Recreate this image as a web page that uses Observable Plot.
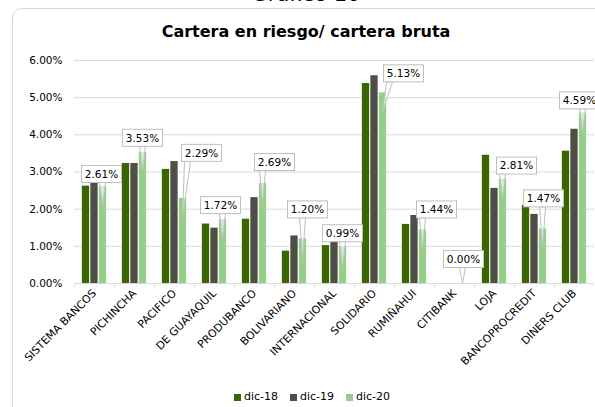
<!DOCTYPE html>
<html><head><meta charset="utf-8">
<script src="https://cdn.jsdelivr.net/npm/d3@7"></script>
<script src="https://cdn.jsdelivr.net/npm/@observablehq/plot@0.6"></script>
<style>
body{margin:0;background:#fff;font-family:"DejaVu Sans",sans-serif;}
#wrap{position:relative;width:595px;height:407px;overflow:hidden;background:#fff;}
#card{position:absolute;left:12px;top:8px;width:620px;height:430px;border:1px solid #d9d9d9;border-radius:10px;box-sizing:border-box;}
#sup{position:absolute;left:0;width:612px;top:-18px;text-align:center;font-size:21px;line-height:24px;color:#000;}
#title{position:absolute;left:0;width:612px;top:22px;text-align:center;font-weight:bold;font-size:16px;line-height:20px;color:#000;}
#chart{position:absolute;left:0;top:0;}
#legend{position:absolute;top:389px;left:0;width:624px;display:flex;justify-content:center;gap:12px;font-size:11px;line-height:16px;color:#000;}
#legend span.item{display:flex;align-items:center;gap:3px;}
#legend span.sw{display:inline-block;width:7px;height:7px;}
</style></head>
<body>
<div id="wrap">
  <div id="card"></div>
  <div id="sup">Gráfico 10</div>
  <div id="title">Cartera en riesgo/ cartera bruta</div>
  <div id="chart"></div>
  <div id="legend"></div>
</div>
<script>
const categories = ["SISTEMA BANCOS","PICHINCHA","PACIFICO","DE GUAYAQUIL","PRODUBANCO","BOLIVARIANO","INTERNACIONAL","SOLIDARIO","RUMIÑAHUI","CITIBANK","LOJA","BANCOPROCREDIT","DINERS CLUB"];
const dic18 = [2.62,3.23,3.07,1.60,1.73,0.87,1.02,5.38,1.59,0.00,3.45,2.10,3.56];
const dic19 = [2.72,3.23,3.28,1.49,2.31,1.28,1.15,5.59,1.83,0.00,2.56,1.86,4.15];
const dic20 = [2.61,3.53,2.29,1.72,2.69,1.20,0.99,5.13,1.44,0.00,2.81,1.47,4.59];
const seriesNames = ["dic-18","dic-19","dic-20"];
const seriesColors = ["#3a6600","#4f4f47","#95cf8a"];
const yTicks = [0,1,2,3,4,5,6];
// callout box offsets (px) relative to the dic-20 bar top
const calloutDx = [-1,0,19,-2,12,5,0,21,14,1,14,1,-3];
const calloutDy = [-12,-14,-45,-14,-21,-29,-13,-19,-20,-24,-13,-30,-12];

const rows = categories.map((c,i)=>({cat:c, v18:dic18[i], v19:dic19[i], v20:dic20[i], dx:calloutDx[i], dy:calloutDy[i]}));
const keys = ["v18","v19","v20"];
const barW = 7.3, step = 8.5;

const chart = Plot.plot({
  width:595, height:380, marginLeft:74, marginRight:1, marginTop:60, marginBottom:97,
  style:{fontFamily:"DejaVu Sans", fontSize:"10.5px", color:"#000", background:"transparent", overflow:"visible"},
  x:{domain:categories, padding:0},
  y:{domain:[0,6]},
  marks:[
    Plot.ruleY(yTicks, {stroke:"#d9d9d9"}),
    Plot.axisY(yTicks, {tickSize:0, tickPadding:12, tickFormat:d=>d.toFixed(2)+"%", label:null}),
    Plot.axisX({tickSize:4, tickFormat:()=>"", dx:-20, stroke:"#d9d9d9", strokeOpacity:1, label:null}),
    Plot.axisX({tickSize:0, tickRotate:-45, tickPadding:8, fontSize:10.8, label:null}),
    ...keys.map((k,j)=>Plot.barY(rows, {x:"cat", y:k, fill:seriesColors[j], insetLeft:(40-barW)/2, insetRight:(40-barW)/2, dx:(j-1)*step})),
    Plot.dot(rows, {x:"cat", y:"v20", render:(index, scales) => {
      const g = d3.create("svg:g");
      const bw = scales.x.bandwidth ? scales.x.bandwidth() : 40;
      for (const i of index) {
        const d = rows[i];
        const tx = scales.x(d.cat) + bw/2 + step;
        const top = scales.y(d.v20);
        const ty = Math.min(scales.y(0), top + 20);
        const cx = tx + d.dx, cy = top + d.dy;
        const w = 40, h = 17;
        const bottom = cy + h/2;
        const sx = Math.max(cx - w/2 + 6, Math.min(cx + w/2 - 6, tx));
        g.append("polygon")
          .attr("points", `${sx-3},${bottom} ${tx},${ty} ${sx+3},${bottom}`)
          .attr("fill","#fff").attr("fill-opacity",0.6).attr("stroke","#bfbfbf").attr("stroke-width",1);
        g.append("rect").attr("x",cx-w/2).attr("y",cy-h/2).attr("width",w).attr("height",h)
          .attr("fill","#fff").attr("stroke","#bfbfbf").attr("stroke-width",1);
        g.append("text").attr("x",cx).attr("y",cy).attr("text-anchor","middle").attr("dy","0.36em")
          .attr("font-size","10.5px").attr("fill","#000").text(d.v20.toFixed(2)+"%");
      }
      return g.node();
    }})
  ]
});
document.getElementById("chart").appendChild(chart);

const legend = document.getElementById("legend");
seriesNames.forEach((s,j)=>{
  const it = document.createElement("span"); it.className="item";
  const sw = document.createElement("span"); sw.className="sw"; sw.style.background=seriesColors[j];
  const t = document.createElement("span"); t.textContent=s;
  it.appendChild(sw); it.appendChild(t); legend.appendChild(it);
});
</script>
</body></html>
